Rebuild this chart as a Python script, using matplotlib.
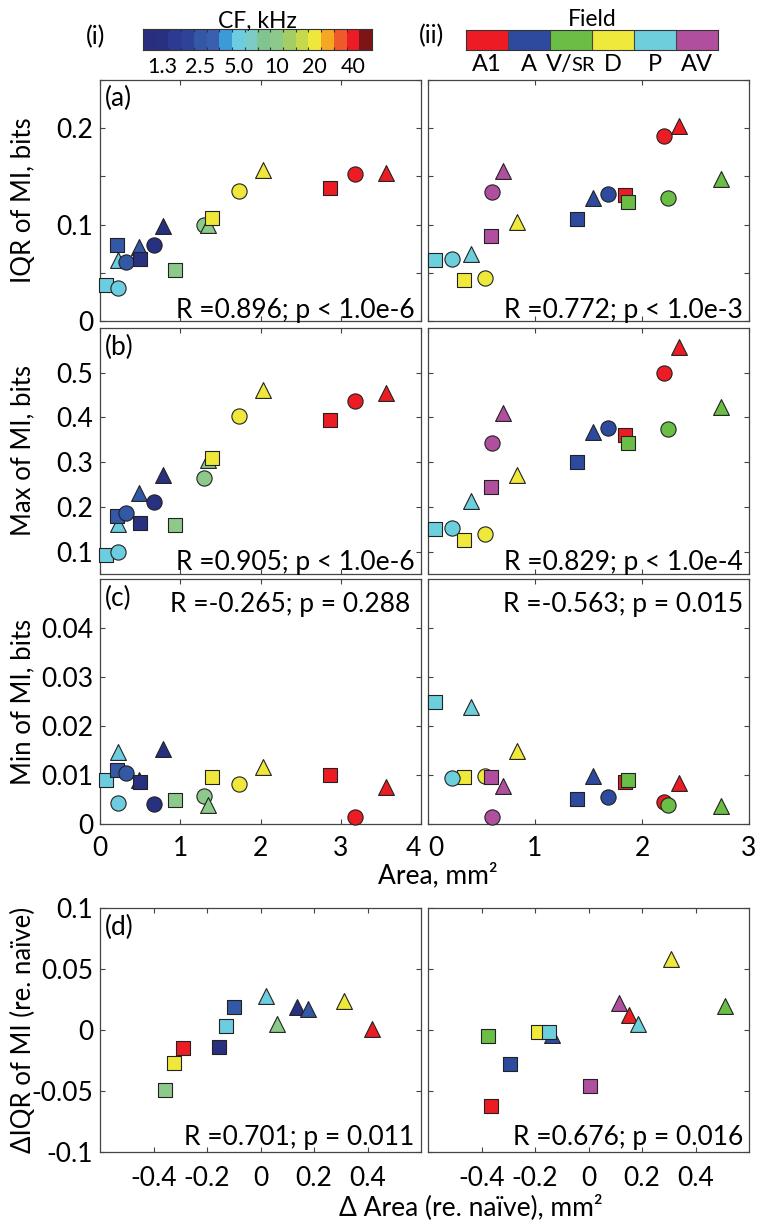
import matplotlib
matplotlib.use('Agg')
import matplotlib.pyplot as plt
import numpy as np
from matplotlib.colors import ListedColormap

plt.rcParams['font.family'] = ['Lato', 'DejaVu Sans']

# CF colour scale, 1/3 octave steps
cf_colors = ['#2b2e7e', '#283080', '#2d3a92', '#2f4298', '#3358a6', '#3a5fae',
             '#3d9ad8', '#6dcde0', '#7dcbc6', '#80c490', '#8dc98a', '#a5cd66',
             '#c6d84c', '#efe83a', '#f5a623', '#f05a2a', '#ec1c24', '#7d1517']
cf_tick_vals = [1.25, 2.5, 5, 10, 20, 40]
cf_tick_labels = ['1.3', '2.5', '5.0', '10', '20', '40']

field_names = ['A1', 'A', 'V/SR', 'D', 'P', 'AV']
field_colors = ['#ed1c24', '#2e4a9e', '#6abd45', '#efe93b', '#6dcfdc', '#b14f9f']

# left column: coloured by CF
left_shape = ['s', 'o', '^'] * 6
left_cf = [5, 5, 5, 2.5, 2.5, 2.5, 1.25, 1.25, 1.25, 10, 10, 10, 20, 20, 20, 40, 40, 40]
left_area = [0.08, 0.22, 0.22, 0.21, 0.33, 0.48, 0.50, 0.67, 0.78,
             0.94, 1.30, 1.35, 1.39, 1.73, 2.03, 2.87, 3.18, 3.57]
left_iqr = [0.037, 0.034, 0.063, 0.079, 0.061, 0.077, 0.064, 0.079, 0.099,
            0.053, 0.100, 0.100, 0.107, 0.135, 0.157, 0.138, 0.152, 0.154]
left_max = [0.093, 0.100, 0.162, 0.179, 0.186, 0.231, 0.163, 0.210, 0.272,
            0.160, 0.265, 0.305, 0.309, 0.404, 0.462, 0.395, 0.437, 0.454]
left_min = [0.0089, 0.0043, 0.0146, 0.0110, 0.0104, 0.0090, 0.0086, 0.0040, 0.0154,
            0.0050, 0.0057, 0.0039, 0.0096, 0.0081, 0.0116, 0.0100, 0.0015, 0.0076]

# right column: coloured by field
right_shape = ['s', 'o', '^'] * 6
right_field = ['A1'] * 3 + ['A'] * 3 + ['V/SR'] * 3 + ['D'] * 3 + ['P'] * 3 + ['AV'] * 3
right_area = [1.84, 2.21, 2.35, 1.39, 1.68, 1.54, 1.87, 2.24, 2.74,
              0.34, 0.53, 0.83, 0.07, 0.22, 0.40, 0.59, 0.60, 0.70]
right_iqr = [0.131, 0.192, 0.202, 0.106, 0.132, 0.128, 0.123, 0.128, 0.147,
             0.0425, 0.045, 0.103, 0.0636, 0.0646, 0.069, 0.0885, 0.134, 0.156]
right_max = [0.361, 0.500, 0.558, 0.300, 0.376, 0.367, 0.342, 0.374, 0.424,
             0.125, 0.139, 0.272, 0.151, 0.153, 0.213, 0.244, 0.344, 0.410]
right_min = [0.0085, 0.0044, 0.0083, 0.0051, 0.0055, 0.0098, 0.0089, 0.0039, 0.0037,
             0.0096, 0.0098, 0.0150, 0.0250, 0.0094, 0.0238, 0.0096, 0.0014, 0.0077]

# (d) change re. naive
dl_shape = ['s'] * 6 + ['^'] * 6
dl_cf = [10, 40, 20, 1.25, 5, 2.5, 5, 10, 1.25, 2.5, 20, 40]
dl_darea = [-0.356, -0.29, -0.324, -0.156, -0.13, -0.10, 0.022, 0.063, 0.135, 0.179, 0.312, 0.416]
dl_diqr = [-0.049, -0.015, -0.027, -0.014, 0.003, 0.019, 0.028, 0.005, 0.019, 0.017, 0.024, 0.001]

dr_shape = ['s', 's', 's', 's', '^', 's', 's', '^', '^', '^', '^', '^']
dr_field = ['A1', 'A', 'V/SR', 'D', 'A', 'P', 'AV', 'AV', 'A1', 'P', 'D', 'V/SR']
dr_darea = [-0.364, -0.292, -0.377, -0.188, -0.136, -0.148, 0.004, 0.113, 0.151, 0.185, 0.308, 0.512]
dr_diqr = [-0.062, -0.028, -0.0047, -0.002, -0.004, -0.002, -0.046, 0.022, 0.012, 0.005, 0.058, 0.020]

stats_left = ['R =0.896; p < 1.0e-6', 'R =0.905; p < 1.0e-6', 'R =-0.265; p = 0.288', 'R =0.701; p = 0.011']
stats_right = ['R =0.772; p < 1.0e-3', 'R =0.829; p < 1.0e-4', 'R =-0.563; p = 0.015', 'R =0.676; p = 0.016']


def cf_color(cf):
    return cf_colors[int(round(3 * np.log2(cf / 1.25))) + 1]


def field_color(f):
    return field_colors[field_names.index(f)]


FS = 19
msize = {'s': 95, 'o': 120, '^': 130}
W, H = 769, 1229
fig = plt.figure(figsize=(W / 100, H / 100), dpi=100)


def add_ax(x0, top, x1, bottom):
    return fig.add_axes([x0 / W, 1 - bottom / H, (x1 - x0) / W, (bottom - top) / H])


def style(ax):
    for sp in ax.spines.values():
        sp.set_color('#444444')
        sp.set_linewidth(0.9)
    ax.tick_params(direction='in', top=True, right=True, length=3.5, width=0.8,
                   color='#444444', labelsize=FS, pad=5)


def dots(ax, xs, ys, shapes, colors):
    for x, y, m, c in zip(xs, ys, shapes, colors):
        ax.scatter(x, y, s=msize[m], marker=m, c=c, edgecolors='#222222',
                   linewidths=0.8, zorder=3, clip_on=False)


lx0, lx1, rx0, rx1 = 100, 421, 428, 749
rows = [(80, 321), (328, 574), (579, 824), (908, 1152)]
ylims = [(0, 0.25), (0.05, 0.6), (0, 0.05), (-0.1, 0.1)]
yticks = [np.arange(0, 0.251, 0.05), np.arange(0.1, 0.51, 0.1),
          np.arange(0, 0.041, 0.01), np.arange(-0.1, 0.101, 0.05)]
ylabs = [['0', '', '0.1', '', '0.2', ''], ['0.1', '0.2', '0.3', '0.4', '0.5'],
         ['0', '0.01', '0.02', '0.03', '0.04'], ['-0.1', '-0.05', '0', '0.05', '0.1']]
ynames = ['IQR of MI, bits', 'Max of MI, bits', 'Min of MI, bits', 'ΔIQR of MI (re. naïve)']
panel = ['(a)', '(b)', '(c)', '(d)']
left_y = [left_iqr, left_max, left_min]
right_y = [right_iqr, right_max, right_min]
stat_y = [0.013, 0.016, 0.867, 0.03]

left_cols = [cf_color(c) for c in left_cf]
right_cols = [field_color(f) for f in right_field]

for r in range(4):
    top, bot = rows[r]
    axl = add_ax(lx0, top, lx1, bot)
    axr = add_ax(rx0, top, rx1, bot)
    for ax in (axl, axr):
        style(ax)
        ax.set_ylim(*ylims[r])
        ax.set_yticks(yticks[r])
    axl.set_yticklabels(ylabs[r][:len(yticks[r])])
    axr.set_yticklabels([])
    axl.set_ylabel(ynames[r], fontsize=18.5)
    axl.yaxis.set_label_coords(-0.2, 0.5)
    axl.text(0.016, 0.922, panel[r], transform=axl.transAxes, fontsize=FS, ha='left', va='center')
    axl.text(0.98 if r != 2 else 0.965, stat_y[r], stats_left[r], transform=axl.transAxes,
             fontsize=FS, ha='right', va='baseline')
    axr.text(0.982, stat_y[r], stats_right[r], transform=axr.transAxes,
             fontsize=FS, ha='right', va='baseline')
    if r < 3:
        axl.set_xlim(0, 4)
        axr.set_xlim(0, 3)
        axl.set_xticks([0, 1, 2, 3, 4])
        axr.set_xticks([0, 1, 2, 3])
        dots(axl, left_area, left_y[r], left_shape, left_cols)
        dots(axr, right_area, right_y[r], right_shape, right_cols)
        if r < 2:
            axl.set_xticklabels([])
            axr.set_xticklabels([])
        else:
            axl.tick_params(axis='x', pad=9)
            axr.tick_params(axis='x', pad=9)
            axl.get_xticklabels()[-1].set_horizontalalignment('right')
            axr.get_xticklabels()[0].set_horizontalalignment('left')
    else:
        for ax in (axl, axr):
            ax.set_xlim(-0.6, 0.6)
            ax.set_xticks([-0.4, -0.2, 0, 0.2, 0.4])
            ax.set_xticklabels(['-0.4', '-0.2', '0', '0.2', '0.4'])
            ax.tick_params(axis='x', pad=10)
        dots(axl, dl_darea, dl_diqr, dl_shape, [cf_color(c) for c in dl_cf])
        dots(axr, dr_darea, dr_diqr, dr_shape, [field_color(f) for f in dr_field])

fig.text(438 / W, 1 - 883 / H, 'Area, mm²', fontsize=FS, ha='center', va='baseline')
fig.text(471 / W, 1 - 1207 / H, 'Δ Area (re. naïve), mm²', fontsize=FS, ha='center', va='center')

# CF colour bar
cax = add_ax(143, 29, 372, 50)
cent = np.log2(1.25) + (np.arange(len(cf_colors)) - 1) / 3
edges = np.append(cent - 1 / 6, cent[-1] + 1 / 6)
cax.imshow(np.arange(len(cf_colors))[None, :], cmap=ListedColormap(cf_colors),
           aspect='auto', extent=[edges[0], edges[-1], 0, 1], interpolation='nearest')
cax.set_xlim(edges[0], edges[-1])
cax.set_yticks([])
cax.set_xticks(np.log2(cf_tick_vals))
cax.set_xticklabels(cf_tick_labels)
cax.set_xticks(edges[1:-1], minor=True)
cax.tick_params(axis='x', which='major', length=0, labelsize=15.5, pad=5)
cax.tick_params(axis='x', which='minor', direction='in', top=True, length=2.5,
                width=0.8, color='#333333')
for sp in cax.spines.values():
    sp.set_color('#333333')
    sp.set_linewidth(0.8)
cax.set_title('CF, kHz', fontsize=16.5, pad=1)
fig.text(96 / W, 1 - 37 / H, '(i)', fontsize=18, ha='center', va='center')

# field colour bar
fax = add_ax(466, 30, 718, 50)
fax.imshow(np.arange(len(field_names))[None, :], cmap=ListedColormap(field_colors),
           aspect='auto', extent=[0, len(field_names), 0, 1], interpolation='nearest')
fax.set_xlim(0, len(field_names))
fax.set_xticks([])
fax.set_yticks([])
for k in range(1, len(field_names)):
    fax.axvline(k, color='#444444', lw=0.8)
for sp in fax.spines.values():
    sp.set_color('#333333')
    sp.set_linewidth(0.8)
for k, name in enumerate(field_names):
    if name == 'V/SR':
        fax.text(k + 0.53, -1.03, 'V/', transform=fax.get_xaxis_transform(),
                 fontsize=17, ha='right', va='baseline')
        fax.text(k + 0.52, -1.03, 'SR', transform=fax.get_xaxis_transform(),
                 fontsize=14.5, ha='left', va='baseline')
    else:
        fax.text(k + 0.5, -1.03, name, transform=fax.get_xaxis_transform(),
                 fontsize=17, ha='center', va='baseline')
fax.set_title('Field', fontsize=16.5, pad=1)
fig.text(432 / W, 1 - 36 / H, '(ii)', fontsize=18, ha='center', va='center')

fig.savefig('out.png', dpi=100)
